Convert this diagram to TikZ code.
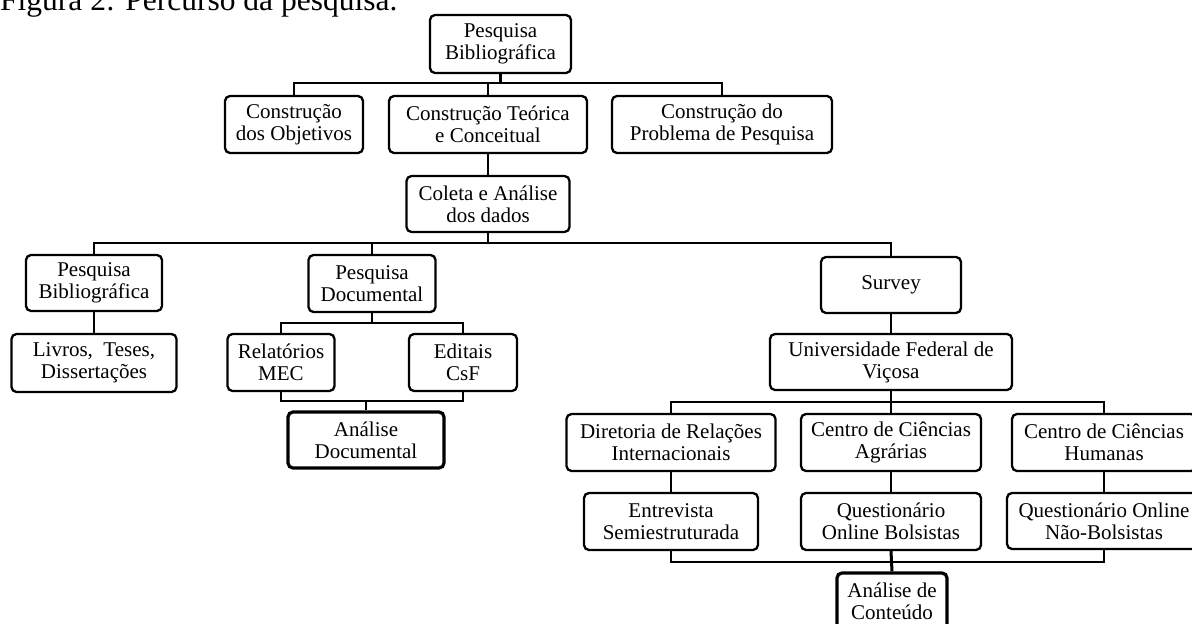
\documentclass[tikz,border=0pt]{standalone}
\usepackage{fontspec}
\setmainfont{Liberation Serif}
\begin{document}
\begin{tikzpicture}[x=1pt,y=-1pt,
  box/.style={draw, line width=2.3pt, rounded corners=5pt, align=center, inner sep=0pt,
    font=\fontsize{21}{22}\selectfont},
  thickbox/.style={box, line width=3.2pt},
  link/.style={line width=2.1pt}]
\useasboundingbox (0,0) rectangle (1192,624);

\node[anchor=base west, inner sep=0pt, font=\fontsize{31.5}{34}\selectfont] (cap) at (0,10) {Figura 2: Percurso da pesquisa.};

% level 0-2
\node[box, minimum width=141pt, minimum height=58pt] (top) at (500.5,44) {Pesquisa\\Bibliográfica};
\node[box, minimum width=138pt, minimum height=57pt] (obj) at (294,124.5) {Construção\\dos Objetivos};
\node[box, minimum width=198pt, minimum height=57pt] (teo) at (488,124.5) {Construção Teórica\\e Conceitual};
\node[box, minimum width=220pt, minimum height=57pt] (prob) at (722,124.5) {Construção do\\Problema de Pesquisa};
\node[box, minimum width=163pt, minimum height=56pt] (col) at (488,204) {Coleta e Análise\\dos dados};

% level 3
\node[box, minimum width=136pt, minimum height=56pt] (pb) at (94,283) {Pesquisa\\Bibliográfica};
\node[box, minimum width=127pt, minimum height=57pt] (pdoc) at (372,283.5) {Pesquisa\\Documental};
\node[box, minimum width=140pt, minimum height=56pt] (sur) at (891,285) {Survey};

% level 4
\node[box, minimum width=165pt, minimum height=58pt] (liv) at (94,363) {Livros,\ \ Teses,\\Dissertações};
\node[box, minimum width=107pt, minimum height=57pt] (rel) at (281,362.5) {Relatórios\\MEC};
\node[box, minimum width=108pt, minimum height=57pt] (edi) at (463,362.5) {Editais\\CsF};
\node[box, minimum width=242pt, minimum height=56pt] (ufv) at (891,362) {Universidade Federal de\\Viçosa};

% level 5
\node[thickbox, minimum width=156pt, minimum height=56pt] (adoc) at (366,440) {Análise\\Documental};
\node[box, minimum width=209pt, minimum height=57pt] (dri) at (671,442.5) {Diretoria de Relações\\Internacionais};
\node[box, minimum width=180pt, minimum height=57pt] (cca) at (891,442.5) {Centro de Ciências\\Agrárias};
\node[box, minimum width=184pt, minimum height=57pt] (cch) at (1104,442.5) {Centro de Ciências\\Humanas};

% level 6
\node[box, minimum width=174pt, minimum height=57pt] (ent) at (671,521.5) {Entrevista\\Semiestruturada};
\node[box, minimum width=180pt, minimum height=57pt] (qob) at (891,521.5) {Questionário\\Online Bolsistas};
\node[box, minimum width=194pt, minimum height=56pt] (qonb) at (1104,521) {Questionário Online\\Não-Bolsistas};

% level 7
\node[thickbox, minimum width=110pt, minimum height=57pt] (acon) at (892,601.5) {Análise de\\Conteúdo};

% bus levels
\coordinate (b1) at (0,83);
\coordinate (b2) at (0,243);
\coordinate (b3) at (0,323);
\coordinate (b4) at (0,401);
\coordinate (b5) at (0,402);
\coordinate (b6) at (0,562);

% connectors
\draw[link] (top.south) -- (top.south |- b1) -| (obj.north);
\draw[link] (top.south) -- (top.south |- b1) -| (teo.north);
\draw[link] (top.south) -- (top.south |- b1) -| (prob.north);
\draw[link] (teo.south) -- (col.north);

\draw[link] (col.south) -- (col.south |- b2) -| (pb.north);
\draw[link] (col.south) -- (col.south |- b2) -| (pdoc.north);
\draw[link] (col.south) -- (col.south |- b2) -| (sur.north);

\draw[link] (pb.south) -- (liv.north);
\draw[link] (pdoc.south) -- (pdoc.south |- b3) -| (rel.north);
\draw[link] (pdoc.south) -- (pdoc.south |- b3) -| (edi.north);
\draw[link] (rel.south) -- (rel.south |- b4) -| (adoc.north);
\draw[link] (edi.south) -- (edi.south |- b4) -| (adoc.north);

\draw[link] (sur.south) -- (ufv.north);
\draw[link] (ufv.south) -- (ufv.south |- b5) -| (dri.north);
\draw[link] (ufv.south) -- (ufv.south |- b5) -| (cca.north);
\draw[link] (ufv.south) -- (ufv.south |- b5) -| (cch.north);

\draw[link] (dri.south) -- (ent.north);
\draw[link] (cca.south) -- (qob.north);
\draw[link] (cch.south) -- (qonb.north);

\draw[link] (ent.south) -- (ent.south |- b6) -| (acon.north);
\draw[link] (qonb.south) -- (qonb.south |- b6) -| (acon.north);
\draw[link, line width=3pt] (qob.south) -- (acon.north);
\end{tikzpicture}
\end{document}
